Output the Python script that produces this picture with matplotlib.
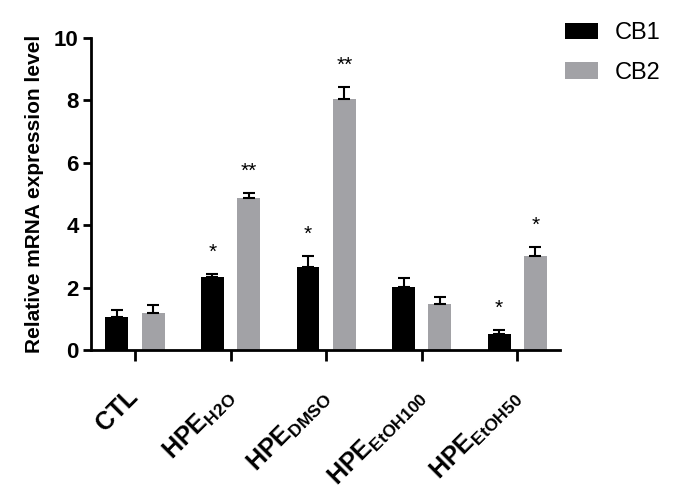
import numpy as np
import matplotlib.pyplot as plt

plt.rcParams['font.family'] = ['Liberation Sans', 'DejaVu Sans']
plt.rcParams['mathtext.fontset'] = 'custom'
plt.rcParams['mathtext.rm'] = 'Liberation Sans'
plt.rcParams['mathtext.bf'] = 'Liberation Sans:bold'

groups = [r'$\mathbf{CTL}$', r'$\mathbf{HPE_{H2O}}$', r'$\mathbf{HPE_{DMSO}}$',
          r'$\mathbf{HPE_{EtOH100}}$', r'$\mathbf{HPE_{EtOH50}}$']
cb1 = [1.06, 2.33, 2.66, 2.01, 0.50]
cb1_err = [0.22, 0.11, 0.35, 0.29, 0.14]
cb2 = [1.18, 4.87, 8.04, 1.47, 3.00]
cb2_err = [0.26, 0.16, 0.38, 0.23, 0.29]
cb1_sig = ['', '*', '*', '', '*']
cb2_sig = ['', '**', '**', '', '*']

fig = plt.figure(figsize=(6.75, 4.91), dpi=100)
ax = fig.add_axes([0.135, 0.287, 0.695, 0.636])

x = np.arange(len(groups))
off, w = 0.19, 0.24
ax.bar(x - off, cb1, w, color='black', label='CB1')
ax.bar(x + off, cb2, w, color='#a2a2a6', label='CB2')
ax.errorbar(x - off, cb1, yerr=[np.zeros(5), cb1_err], fmt='none', ecolor='black',
            elinewidth=1.5, capsize=4, capthick=1.5)
ax.errorbar(x + off, cb2, yerr=[np.zeros(5), cb2_err], fmt='none', ecolor='black',
            elinewidth=1.5, capsize=4, capthick=1.5)

for i in range(len(groups)):
    if cb1_sig[i]:
        ax.text(x[i] - off, cb1[i] + cb1_err[i] + 0.4, cb1_sig[i], ha='center', va='bottom', fontsize=15)
    if cb2_sig[i]:
        ax.text(x[i] + off, cb2[i] + cb2_err[i] + 0.4, cb2_sig[i], ha='center', va='bottom', fontsize=15)

ax.set_xlim(-0.46, 4.45)
ax.set_ylim(0, 10)
ax.set_yticks([0, 2, 4, 6, 8, 10])
ax.set_xticks(x)
ax.set_xticklabels(groups, rotation=45, ha='right', va='center', rotation_mode='anchor', fontsize=18)
ax.tick_params(axis='y', labelsize=16, width=2, length=6, pad=3)
ax.tick_params(axis='x', width=2, length=8, pad=23)
for lab in ax.get_yticklabels():
    lab.set_fontweight('bold')
ax.set_ylabel('Relative mRNA expression level', fontsize=15, fontweight='bold', labelpad=7)

for s in ['top', 'right']:
    ax.spines[s].set_visible(False)
for s in ['left', 'bottom']:
    ax.spines[s].set_linewidth(2)

fig.legend(*ax.get_legend_handles_labels(), loc='upper left', bbox_to_anchor=(0.837, 0.955),
           frameon=False, fontsize=17, borderpad=0, borderaxespad=0,
           handlelength=1.4, handleheight=0.68, handletextpad=0.72, labelspacing=0.75)

fig.savefig('out.png', dpi=100)
